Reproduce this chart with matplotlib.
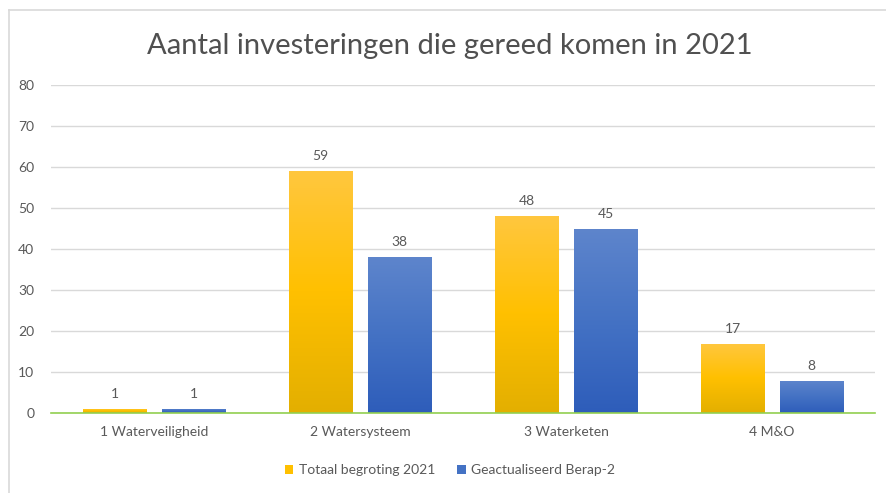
import numpy as np
import matplotlib.pyplot as plt
from matplotlib.colors import LinearSegmentedColormap
from matplotlib.patches import Patch
from matplotlib.lines import Line2D

categories = ["1 Waterveiligheid", "2 Watersysteem", "3 Waterketen", "4 M&O"]
begroting = [1, 59, 48, 17]
berap = [1, 38, 45, 8]
series_names = ["Totaal begroting 2021", "Geactualiseerd Berap-2"]

text_col = "#595959"
plt.rcParams["font.family"] = ["Lato", "DejaVu Sans"]

fig = plt.figure(figsize=(8.86, 4.93), dpi=100)
ax = fig.add_axes([0.0576, 0.1613, 0.93, 0.6663])

# frame lines (top and left only visible)
fig.add_artist(Line2D([8.5 / 886, 8.5 / 886], [0, 1 - 9.5 / 493], color="#D9D9D9", lw=1.2))
fig.add_artist(Line2D([8.5 / 886, 1], [1 - 9.5 / 493, 1 - 9.5 / 493], color="#D9D9D9", lw=1.2))

yellow_cmap = LinearSegmentedColormap.from_list("y", ["#E3AF00", "#FFC000", "#FFC73F"])
blue_cmap = LinearSegmentedColormap.from_list("b", ["#2E5DBA", "#4472C4", "#5E85CC"])

x = np.arange(len(categories))
w = 0.306
off = 0.192
grad = np.linspace(0, 1, 256).reshape(-1, 1)

for vals, dx, cmap, name in [(begroting, -off, yellow_cmap, series_names[0]),
                              (berap, off, blue_cmap, series_names[1])]:
    bars = ax.bar(x + dx, vals, w, color="none", edgecolor="none", zorder=3)
    for b, v in zip(bars, vals):
        im = ax.imshow(grad, cmap=cmap, aspect="auto", origin="lower",
                       extent=[b.get_x(), b.get_x() + b.get_width(), 0, v], zorder=3)
        im.set_clip_path(b)
        ax.text(b.get_x() + b.get_width() / 2, v + 2.2, str(v), ha="center", va="bottom",
                fontsize=10, color=text_col, zorder=4)

ax.set_xlim(-0.5, len(categories) - 0.5)
ax.set_ylim(0, 80)
ax.set_yticks(range(0, 81, 10))
ax.set_xticks(x)
ax.set_xticklabels(categories)
ax.grid(axis="y", color="#D9D9D9", lw=1, zorder=0)
ax.set_axisbelow(True)
for s in ["top", "right", "left"]:
    ax.spines[s].set_visible(False)
ax.spines["bottom"].set_color("#92D050")
ax.spines["bottom"].set_linewidth(1.2)
ax.spines["bottom"].set_zorder(5)
ax.tick_params(axis="both", length=0, colors=text_col, labelsize=10)
ax.tick_params(axis="y", pad=12)
ax.tick_params(axis="x", pad=9)

fig.text(0.508, 1 - 46 / 493, "Aantal investeringen die gereed komen in 2021",
         ha="center", va="center", fontsize=21, color="#505050")

handles = [Patch(facecolor="#FFC000"), Patch(facecolor="#4472C4")]
fig.legend(handles, series_names, loc="center", bbox_to_anchor=(0.508, 1 - 470 / 493),
           ncol=2, frameon=False, fontsize=10, labelcolor=text_col,
           handlelength=0.6, handleheight=0.6, handletextpad=0.4, columnspacing=1.6)

fig.savefig("out.png", dpi=100, facecolor="white")
